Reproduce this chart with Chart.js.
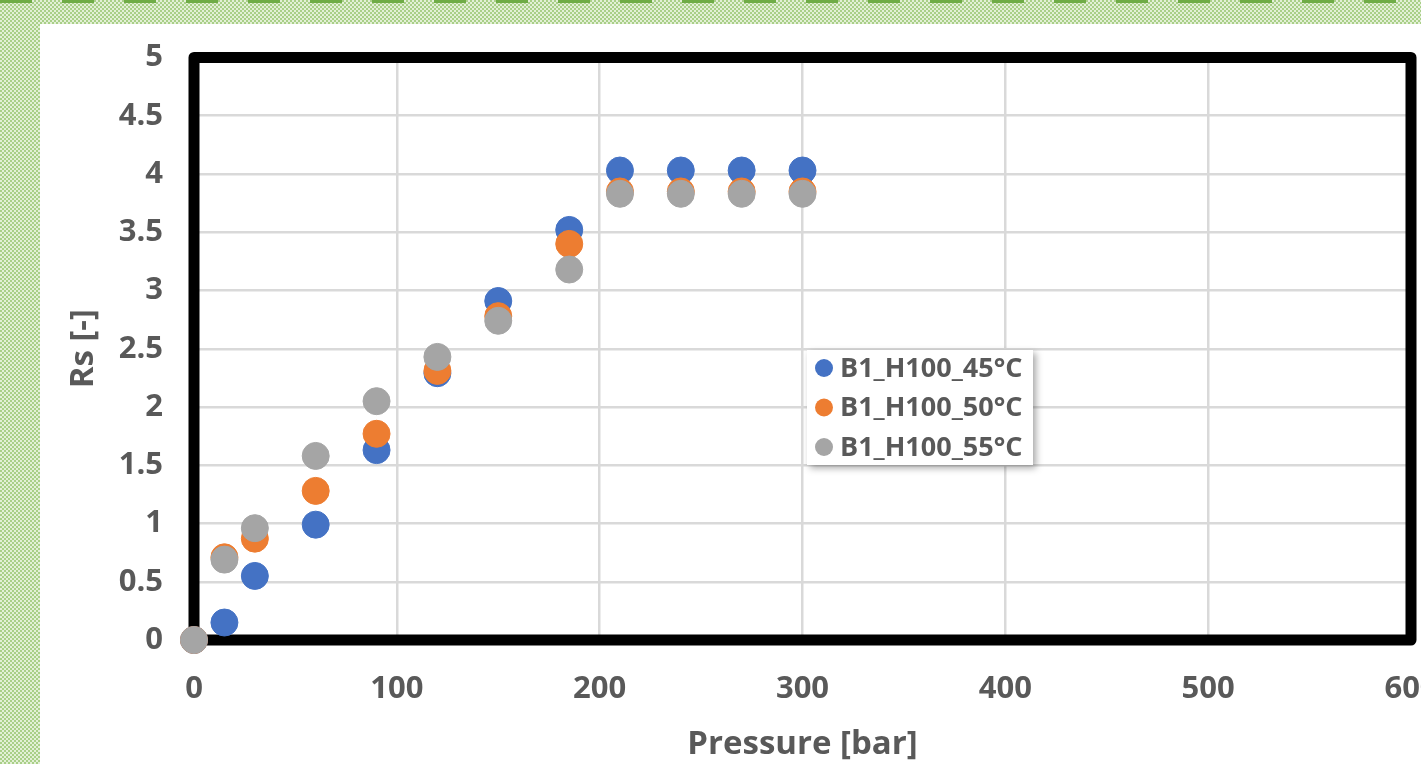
<!DOCTYPE html>
<html>
<head>
<meta charset="utf-8">
<script src="https://cdn.jsdelivr.net/npm/chart.js@4/dist/chart.umd.min.js"></script>
<style>
  html, body { margin: 0; padding: 0; width: 1421px; height: 764px; overflow: hidden; }
  body {
    position: relative;
    background: repeating-conic-gradient(#a9cf88 0 25%, #e3f0d6 0 50%) 0 0 / 4px 4px;
  }
  #dash {
    position: absolute; left: 0; top: 0; width: 1421px; height: 3px;
    background: repeating-linear-gradient(90deg, #6fac46 0 32px, transparent 32px 62px);
  }
  #panel { position: absolute; left: 40px; top: 24px; right: 0; bottom: 0; background: #fff; }
  #chart { position: absolute; left: 0; top: 0; }
</style>
</head>
<body>
<div id="dash"></div>
<div id="panel"></div>
<canvas id="chart" width="1440" height="764"></canvas>
<script>
// pressure [bar]
const pressure = [0, 15, 30, 60, 90, 120, 150, 185, 210, 240, 270, 300];
// Rs [-] per temperature
const rs45 = [0, 0.15, 0.55, 0.99, 1.63, 2.29, 2.91, 3.52, 4.03, 4.03, 4.03, 4.03];
const rs50 = [0, 0.71, 0.87, 1.28, 1.77, 2.31, 2.78, 3.40, 3.85, 3.85, 3.85, 3.85];
const rs55 = [0, 0.69, 0.96, 1.58, 2.05, 2.43, 2.74, 3.18, 3.83, 3.83, 3.83, 3.83];

const seriesLabels = ["B1_H100_45°C", "B1_H100_50°C", "B1_H100_55°C"];
const seriesColors = ["#4472C4", "#ED7D31", "#A5A5A5"];

const xTickValues = [0, 100, 200, 300, 400, 500, 600];
const yTickValues = [0, 0.5, 1, 1.5, 2, 2.5, 3, 3.5, 4, 4.5, 5];

const textColor = "#595959";
const fontFamily = "'Open Sans', sans-serif";

const toPoints = ys => pressure.map((p, i) => ({ x: p, y: ys[i] }));

// thick black frame round the plot area, under the markers
const frame = {
  id: "frame",
  beforeDatasetsDraw(chart) {
    const { ctx, chartArea: a } = chart;
    ctx.save();
    ctx.strokeStyle = "#000";
    ctx.lineWidth = 11;
    ctx.lineJoin = "round";
    ctx.strokeRect(a.left, a.top, a.right - a.left, a.bottom - a.top);
    ctx.restore();
  }
};

// Excel style legend box with a drop shadow
const boxLegend = {
  id: "boxLegend",
  afterDatasetsDraw(chart) {
    const ctx = chart.ctx;
    const left = 807, top = 350, w = 226, h = 115;
    ctx.save();
    ctx.shadowColor = "rgba(0,0,0,0.35)";
    ctx.shadowBlur = 7;
    ctx.shadowOffsetX = 3;
    ctx.shadowOffsetY = 3;
    ctx.fillStyle = "#fff";
    ctx.fillRect(left, top, w, h);
    ctx.shadowColor = "transparent";
    ctx.font = "bold 27px " + fontFamily;
    ctx.textBaseline = "middle";
    chart.data.datasets.forEach((ds, i) => {
      const y = top + 18 + i * 39.5;
      ctx.fillStyle = ds.backgroundColor;
      ctx.beginPath();
      ctx.arc(left + 17, y, 9, 0, Math.PI * 2);
      ctx.fill();
      ctx.fillStyle = textColor;
      ctx.fillText(ds.label, left + 33, y + 1);
    });
    ctx.restore();
  }
};

const makeSet = (ys, i) => ({
  label: seriesLabels[i],
  data: toPoints(ys),
  backgroundColor: seriesColors[i],
  borderColor: seriesColors[i],
  borderWidth: 1,
  pointRadius: 13.5,
  pointHoverRadius: 13.5,
  clip: false,
  order: 3 - i
});

new Chart(document.getElementById("chart"), {
  type: "scatter",
  data: {
    datasets: [makeSet(rs45, 0), makeSet(rs50, 1), makeSet(rs55, 2)]
  },
  options: {
    responsive: false,
    animation: false,
    events: [],
    layout: { padding: { left: 40, top: 57.5, right: 29, bottom: 0 } },
    plugins: { legend: { display: false }, tooltip: { enabled: false } },
    scales: {
      x: {
        type: "linear",
        min: 0, max: 600,
        afterBuildTicks: s => { s.ticks = xTickValues.map(v => ({ value: v })); },
        afterFit: s => { s.height = 124; s.paddingLeft = 0; s.paddingRight = 0; },
        grid: { color: "#d9d9d9", lineWidth: 2.5, drawTicks: false },
        border: { display: false },
        ticks: {
          padding: 31,
          color: textColor,
          font: { family: fontFamily, size: 31, weight: "bold" },
          callback: v => String(v)
        },
        title: {
          display: true,
          text: "Pressure [bar]",
          color: textColor,
          padding: { top: 0, bottom: 0 },
          font: { family: fontFamily, size: 33, weight: "bold" }
        }
      },
      y: {
        type: "linear",
        min: 0, max: 5,
        afterBuildTicks: s => { s.ticks = yTickValues.map(v => ({ value: v })); },
        afterFit: s => { s.width = 154; s.paddingTop = 0; s.paddingBottom = 0; },
        grid: { color: "#d9d9d9", lineWidth: 2.5, drawTicks: false },
        border: { display: false },
        ticks: {
          padding: 31,
          color: textColor,
          font: { family: fontFamily, size: 31, weight: "bold" },
          callback: v => String(v)
        },
        title: {
          display: true,
          text: "Rs [-]",
          color: textColor,
          padding: { top: 24, bottom: 0 },
          font: { family: fontFamily, size: 33, weight: "bold" }
        }
      }
    }
  },
  plugins: [frame, boxLegend]
});
</script>
</body>
</html>
